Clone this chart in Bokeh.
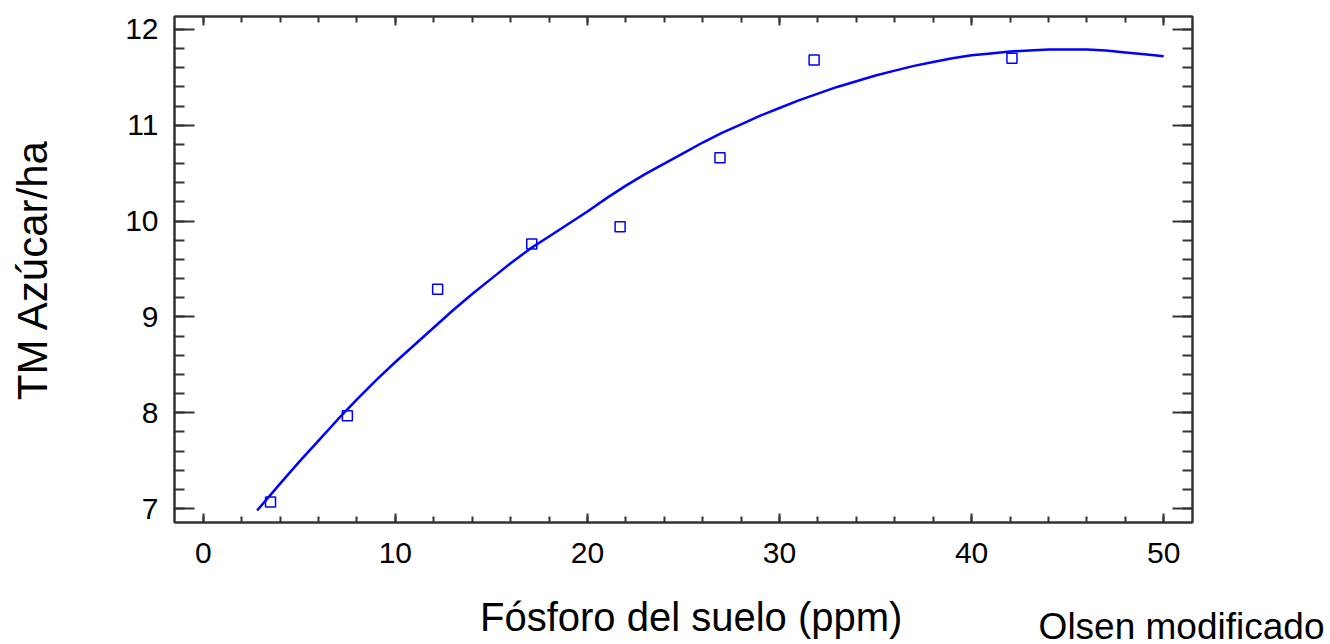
from bokeh.plotting import figure
from bokeh.models import (LinearAxis, SingleIntervalTicker, FixedTicker, Range1d,
                          CustomJSTickFormatter)
from bokeh.embed import file_html
from bokeh.resources import INLINE

# Observed data (squares)
obs_p = [3.5, 7.5, 12.2, 17.1, 21.7, 26.9, 31.8, 42.1]
obs_tm = [7.07, 7.97, 9.29, 9.76, 9.94, 10.66, 11.68, 11.70]

# Fitted curve
fit_p = [2.8, 4, 5, 6, 7, 8, 9, 10, 11, 12, 13, 14, 15, 16, 17, 18, 19, 20,
         21, 22, 23, 24, 25, 26, 27, 28, 29, 30, 31, 32, 33, 34, 35, 36, 37,
         38, 39, 40, 41, 42, 43, 44, 45, 46, 47, 48, 49, 50]
fit_tm = [6.98, 7.26, 7.49, 7.71, 7.93, 8.14, 8.34, 8.53, 8.71, 8.89, 9.07, 9.24,
          9.40, 9.56, 9.71, 9.84, 9.97, 10.10, 10.24, 10.37, 10.49, 10.60, 10.71,
          10.82, 10.92, 11.01, 11.10, 11.18, 11.26, 11.33, 11.40, 11.46, 11.52,
          11.57, 11.62, 11.66, 11.70, 11.73, 11.75, 11.77, 11.78, 11.79, 11.79,
          11.79, 11.78, 11.76, 11.74, 11.72]

x_title = "Fósforo del suelo (ppm)"
y_title = "TM Azúcar/ha"
note = "Olsen modificado"

FONT = "Liberation Sans"
AXC = "#333333"

p = figure(frame_width=1018, frame_height=506, output_backend="svg", toolbar_location=None,
           x_range=Range1d(-1.5, 51.5), y_range=Range1d(6.855, 12.135),
           min_border_left=174, min_border_right=138, min_border_top=16, min_border_bottom=122,
           x_axis_location=None, y_axis_location=None)
p.grid.visible = False
p.outline_line_color = AXC
p.outline_line_width = 2
p.background_fill_color = "white"
p.border_fill_color = "white"


def make_axis(interval, tin_major, tin_minor, show_labels, label=None, label_size="40px"):
    ax = LinearAxis(ticker=SingleIntervalTicker(interval=interval, num_minor_ticks=5))
    ax.axis_line_color = AXC
    ax.axis_line_width = 2
    ax.major_tick_line_color = AXC
    ax.major_tick_line_width = 2
    ax.minor_tick_line_color = AXC
    ax.minor_tick_line_width = 2
    ax.major_tick_in = tin_major
    ax.major_tick_out = 0
    ax.minor_tick_in = tin_minor
    ax.minor_tick_out = 0
    ax.major_label_text_font = FONT
    ax.major_label_text_font_size = "30px"
    ax.major_label_text_color = "#000000"
    if not show_labels:
        ax.formatter = CustomJSTickFormatter(code="return ''")
        ax.major_label_standoff = 0
    if label:
        ax.axis_label = label
        ax.axis_label_text_font = FONT
        ax.axis_label_text_font_size = label_size
        ax.axis_label_text_font_style = "normal"
        ax.axis_label_text_color = "#000000"
    return ax


def text_row(pos, text, size, standoff):
    ax = LinearAxis(ticker=FixedTicker(ticks=[pos], minor_ticks=[]))
    ax.major_label_overrides = {pos: text}
    ax.axis_line_color = None
    ax.major_tick_line_color = None
    ax.minor_tick_line_color = None
    ax.major_tick_in = 0
    ax.major_tick_out = 0
    ax.minor_tick_in = 0
    ax.minor_tick_out = 0
    ax.major_label_standoff = standoff
    ax.major_label_text_font = FONT
    ax.major_label_text_font_size = size
    ax.major_label_text_color = "#000000"
    return ax


# bottom axis: ticks and numbers
xb = make_axis(10, 9, 6, True)
xb.major_label_standoff = 20
p.add_layout(xb, "below")

# axis title and the note under the bottom axis
TITLE_POS = 25.4
NOTE_POS = 50.93
p.add_layout(text_row(TITLE_POS, x_title, "40px", 29), "below")
p.add_layout(text_row(NOTE_POS, note, "37px", -36), "below")

xt = make_axis(10, 9, 6, False)
p.add_layout(xt, "above")

yl = make_axis(1, 20, 10, True, y_title, "42px")
yl.major_label_standoff = 16
yl.axis_label_standoff = 66
p.add_layout(yl, "left")

yr = make_axis(1, 20, 10, False)
p.add_layout(yr, "right")

p.line(fit_p, fit_tm, line_color="#0000ff", line_width=2.5)
p.scatter(obs_p, obs_tm, marker="square", size=10, fill_color=None,
          line_color="#0000ff", line_width=1.5)

open("out.html", "w").write(file_html(p, INLINE))
